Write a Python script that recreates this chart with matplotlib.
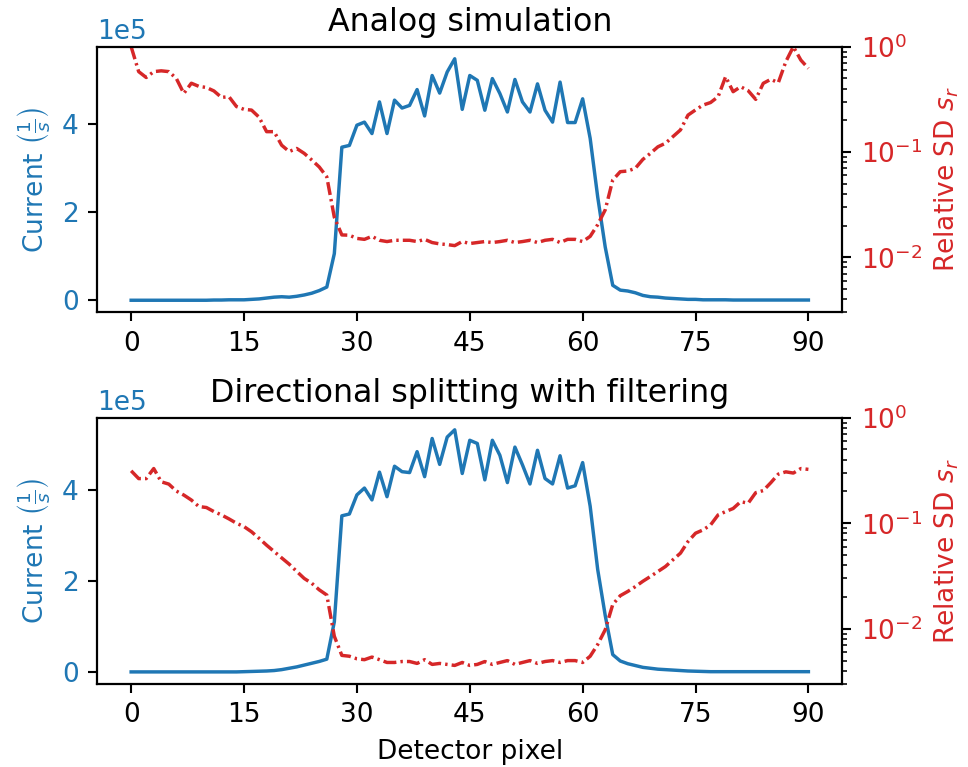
import numpy as np
import matplotlib
matplotlib.use("Agg")
import matplotlib.pyplot as plt

pixels = np.arange(91)

# current in units of 1e5 1/s
current_analog = [0.0, 0.0, 0.0, 0.0, 0.0, 0.0, 0.0, 0.0, 0.0, 0.0,
                  0.0, 0.005, 0.005, 0.01, 0.01, 0.01, 0.02, 0.03, 0.05, 0.07,
                  0.08, 0.07, 0.09, 0.12, 0.16, 0.22, 0.3, 1.06, 3.48, 3.52,
                  3.98, 4.05, 3.79, 4.51, 3.79, 4.55, 4.37, 4.43, 4.79, 4.19,
                  5.11, 4.71, 5.19, 5.49, 4.34, 5.11, 5.0, 4.32, 5.04, 4.7,
                  4.28, 5.02, 4.51, 4.28, 4.92, 4.32, 4.05, 4.96, 4.04, 4.04,
                  4.58, 3.68, 2.35, 1.21, 0.34, 0.23, 0.21, 0.17, 0.11, 0.08,
                  0.07, 0.05, 0.04, 0.03, 0.02, 0.02, 0.01, 0.01, 0.01, 0.01,
                  0.005, 0.005, 0.005, 0.005, 0.005, 0.005, 0.005, 0.005, 0.005, 0.005,
                  0.005]
sd_analog = [1.0, 0.58, 0.51, 0.58, 0.59, 0.58, 0.50, 0.36, 0.45, 0.42,
             0.41, 0.38, 0.33, 0.335, 0.27, 0.254, 0.25, 0.214, 0.156, 0.156,
             0.116, 0.101, 0.108, 0.097, 0.084, 0.072, 0.058, 0.024, 0.0163, 0.0162,
             0.0151, 0.0148, 0.0158, 0.0145, 0.0141, 0.0145, 0.0145, 0.0145, 0.0141, 0.0148,
             0.0138, 0.0134, 0.0132, 0.0129, 0.0141, 0.0135, 0.0138, 0.0141, 0.0138, 0.0141,
             0.0145, 0.0138, 0.0141, 0.0145, 0.0138, 0.0145, 0.0148, 0.0138, 0.0148, 0.0148,
             0.0141, 0.0158, 0.0204, 0.0282, 0.0542, 0.065, 0.066, 0.070, 0.085, 0.097,
             0.112, 0.121, 0.140, 0.162, 0.224, 0.251, 0.279, 0.295, 0.335, 0.519,
             0.374, 0.417, 0.382, 0.316, 0.449, 0.490, 0.455, 0.721, 1.0, 0.746,
             0.622]

current_split = [0.0, 0.0, 0.0, 0.0, 0.0, 0.0, 0.0, 0.0, 0.0, 0.0,
                 0.0, 0.0, 0.0, 0.0, 0.0, 0.005, 0.01, 0.015, 0.02, 0.03,
                 0.05, 0.08, 0.11, 0.15, 0.19, 0.23, 0.28, 1.1, 3.43, 3.47,
                 3.89, 4.04, 3.78, 4.39, 3.85, 4.52, 4.40, 4.38, 4.84, 4.29,
                 5.13, 4.56, 5.16, 5.32, 4.36, 5.09, 5.02, 4.22, 5.09, 4.76,
                 4.16, 4.94, 4.55, 4.13, 4.87, 4.25, 4.13, 4.75, 4.04, 4.09,
                 4.60, 3.64, 2.25, 1.24, 0.38, 0.24, 0.18, 0.14, 0.10, 0.08,
                 0.06, 0.05, 0.04, 0.03, 0.02, 0.015, 0.01, 0.005, 0.005, 0.005,
                 0.005, 0.005, 0.005, 0.005, 0.005, 0.005, 0.005, 0.005, 0.005, 0.005,
                 0.005]
sd_split = [0.314, 0.265, 0.265, 0.330, 0.247, 0.235, 0.202, 0.185, 0.166, 0.144,
            0.141, 0.129, 0.120, 0.110, 0.100, 0.093, 0.083, 0.072, 0.062, 0.054,
            0.047, 0.041, 0.035, 0.030, 0.027, 0.0234, 0.0209, 0.0085, 0.0056, 0.0055,
            0.0052, 0.0051, 0.0054, 0.0051, 0.0048, 0.0048, 0.0049, 0.0049, 0.0047, 0.0051,
            0.0046, 0.0047, 0.0046, 0.0045, 0.0048, 0.0045, 0.0046, 0.0049, 0.0046, 0.0048,
            0.0050, 0.0046, 0.0048, 0.0050, 0.0047, 0.0049, 0.0050, 0.0048, 0.0050, 0.0050,
            0.0048, 0.0055, 0.0071, 0.0098, 0.0170, 0.0206, 0.0226, 0.0251, 0.0282, 0.0313,
            0.0349, 0.0389, 0.0451, 0.0521, 0.0671, 0.0805, 0.0865, 0.0964, 0.120, 0.129,
            0.138, 0.160, 0.155, 0.195, 0.204, 0.242, 0.292, 0.307, 0.299, 0.330,
            0.324]

titles = ["Analog simulation", "Directional splitting with filtering"]
x_ticks = [0, 15, 30, 45, 60, 75, 90]

c1 = "tab:blue"
c2 = "tab:red"

fig = plt.figure(figsize=(969 / 190, 767 / 190), dpi=190)
boxes = [[0.1004, 0.5928, 0.7688, 0.3463], [0.1004, 0.1082, 0.7688, 0.3472]]

for box, title, cur, sd in zip(boxes, titles, [current_analog, current_split], [sd_analog, sd_split]):
    ax = fig.add_axes(box)
    ax.plot(pixels, np.array(cur) * 1e5, color=c1, lw=1.3)
    ax.set_ylabel(r"Current $\left(\frac{1}{s}\right)$", color=c1)
    ax.tick_params(axis="y", labelcolor=c1)
    ax.ticklabel_format(axis="y", style="sci", scilimits=(0, 0))
    ax.yaxis.get_offset_text().set_color(c1)
    ax.set_xticks(x_ticks)
    ax.set_title(title)

    ax2 = ax.twinx()
    ax2.plot(pixels, sd, color=c2, lw=1.3, linestyle=(0, (3.8, 1.2, 0.7, 1.2)))
    ax2.set_yscale("log")
    ax2.set_ylim(3e-3, 1)
    ax2.set_ylabel(r"Relative SD $s_r$", color=c2)
    ax2.tick_params(axis="y", labelcolor=c2)

ax.set_xlabel("Detector pixel")

plt.savefig("out.png", dpi=190)
